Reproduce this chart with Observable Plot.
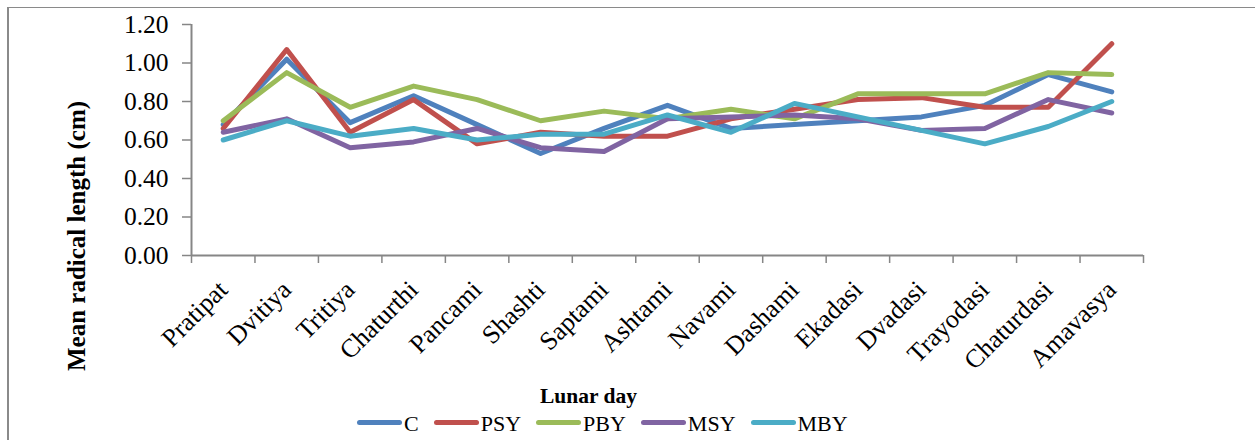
<!DOCTYPE html>
<html>
<head>
<meta charset="utf-8">
<script src="https://cdn.jsdelivr.net/npm/d3@7"></script>
<script src="https://cdn.jsdelivr.net/npm/@observablehq/plot@0.6"></script>
<style>
  html, body { margin: 0; padding: 0; background: #fff; }
  #wrap { position: relative; width: 1255px; height: 440px; overflow: hidden; font-family: "Liberation Serif", "Times New Roman", serif; }
  #frame { position: absolute; left: 7px; top: 7px; width: 1300px; height: 500px; border-left: 2px solid #8a8a8a; border-top: 1.5px solid #8a8a8a; }
  #chart { position: absolute; left: 0; top: 0; }
  #legend { position: absolute; left: 357px; top: 410px; height: 24px; display: flex; align-items: center; }
  .item { display: flex; align-items: center; margin-right: 15px; }
  .swatch { width: 45px; height: 5px; border-radius: 3px; margin-right: 2px; }
  .lbl { font-size: 22px; line-height: 24px; position: relative; top: 2px; color: #000; }
</style>
</head>
<body>
<div id="wrap">
  <div id="frame"></div>
  <div id="chart"></div>
  <div id="legend"></div>
</div>
<script>
const days = ["Pratipat","Dvitiya","Tritiya","Chaturthi","Pancami","Shashti","Saptami","Ashtami","Navami","Dashami","Ekadasi","Dvadasi","Trayodasi","Chaturdasi","Amavasya"];
const C   = [0.68,1.02,0.69,0.83,0.68,0.53,0.66,0.78,0.66,0.68,0.70,0.72,0.78,0.94,0.85];
const PSY = [0.66,1.07,0.64,0.81,0.58,0.64,0.62,0.62,0.71,0.76,0.81,0.82,0.77,0.77,1.10];
const PBY = [0.70,0.95,0.77,0.88,0.81,0.70,0.75,0.71,0.76,0.71,0.84,0.84,0.84,0.95,0.94];
const MSY = [0.64,0.71,0.56,0.59,0.66,0.56,0.54,0.71,0.72,0.73,0.71,0.65,0.66,0.81,0.74];
const MBY = [0.60,0.70,0.62,0.66,0.60,0.63,0.63,0.73,0.64,0.79,0.72,0.65,0.58,0.67,0.80];
const seriesNames = ["C","PSY","PBY","MSY","MBY"];
const seriesColors = ["#4F81BD","#C0504D","#9BBB59","#8064A2","#4BACC6"];
const yTicks = [0, 0.2, 0.4, 0.6, 0.8, 1.0, 1.2];
const yTitle = "Mean radical length (cm)";
const xTitle = "Lunar day";

const seriesValues = [C, PSY, PBY, MSY, MBY];
const rows = seriesNames.flatMap((s, k) => seriesValues[k].map((v, i) => ({series: s, day: i, v})));

const axisGray = "#868686";
const chart = Plot.plot({
  width: 1255,
  height: 410,
  marginLeft: 191,
  marginRight: 112,
  marginTop: 24,
  marginBottom: 155,
  x: {domain: [0, days.length], axis: null},
  y: {domain: [0, 1.2], axis: null},
  color: {domain: seriesNames, range: seriesColors},
  style: {fontFamily: "'Liberation Serif', 'Times New Roman', serif", color: "#000", background: "transparent", overflow: "visible"},
  marks: [
    Plot.axisY(yTicks, {tickFormat: d3.format(".2f"), tickSize: 9, tickPadding: 14, fontSize: 25.5, stroke: axisGray, strokeWidth: 1.5, label: null}),
    Plot.axisX(d3.range(days.length + 1), {tickFormat: () => "", tickSize: 8, stroke: axisGray, strokeWidth: 1.5, label: null}),
    Plot.axisX(days.map((d, i) => i + 0.5), {tickFormat: d => days[Math.floor(d)], tickSize: 0, tickPadding: 30, tickRotate: -45, fontSize: 26, label: null}),
    Plot.ruleX([0], {stroke: axisGray, strokeWidth: 2}),
    Plot.ruleY([0], {stroke: axisGray, strokeWidth: 2}),
    Plot.line(rows, {x: d => d.day + 0.5, y: "v", z: "series", stroke: "series", strokeWidth: 5, strokeLinecap: "round", strokeLinejoin: "round"}),
    Plot.text([xTitle], {text: d => d, frameAnchor: "bottom", dx: -79, dy: 147, lineAnchor: "bottom", fontSize: 21.5, fontWeight: "bold", fill: "#000"}),
    Plot.text([yTitle], {text: d => d, frameAnchor: "left", rotate: -90, dx: -115, dy: 96, textAnchor: "middle", lineAnchor: "middle", fontSize: 25, fontWeight: "bold", fill: "#000"})
  ]
});
document.getElementById("chart").appendChild(chart);

const legend = document.getElementById("legend");
seriesNames.forEach((s, k) => {
  const item = document.createElement("div");
  item.className = "item";
  const sw = document.createElement("span");
  sw.className = "swatch";
  sw.style.background = seriesColors[k];
  const t = document.createElement("span");
  t.className = "lbl";
  t.textContent = s;
  item.appendChild(sw);
  item.appendChild(t);
  legend.appendChild(item);
});
</script>
</body>
</html>
